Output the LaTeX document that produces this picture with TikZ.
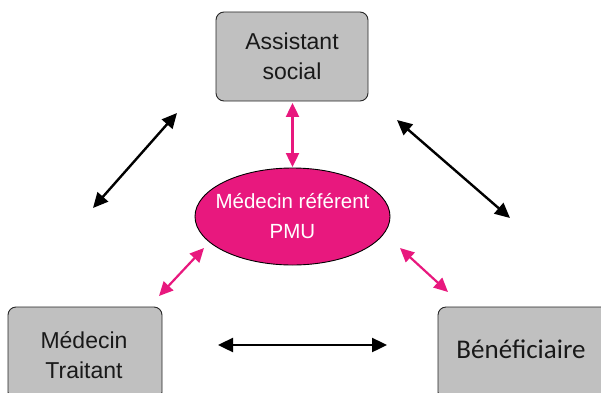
\documentclass[tikz,border=0pt]{standalone}
\usepackage{fontspec}
\setmainfont{Liberation Sans}
\newfontfamily\calibri{Carlito}
\usetikzlibrary{arrows.meta,shapes.geometric}
\definecolor{pmupink}{RGB}{232,24,126}
\definecolor{boxgray}{RGB}{192,192,192}
\begin{document}
\begin{tikzpicture}[x=1pt,y=1pt,
  greybox/.style={draw=black!85,line width=0.9pt,fill=boxgray,rounded corners=8pt,
    minimum width=#1,inner sep=0pt},
  boxtext/.style={align=center,font=\fontsize{23}{30}\selectfont,text=black!90},
  blackarrow/.style={line width=2.4pt,black,{Triangle[length=15pt,width=14pt]}-{Triangle[length=15pt,width=14pt]}},
  pinkarrow/.style={line width=2.2pt,pmupink,{Triangle[length=14pt,width=13pt]}-{Triangle[length=14pt,width=13pt]}}
]
\useasboundingbox (0,0) rectangle (601,392);
\clip (0,0) rectangle (601,392);
% boxes
\node[greybox=152pt,minimum height=89pt,boxtext] (as) at (292,335.5) {Assistant\\social};
\node[greybox=154pt,minimum height=93pt] (mtbox) at (85,38.5) {};
\node[boxtext] (mt) at (84,37) {Médecin\\Traitant};
\node[greybox=182pt,minimum height=93pt] (benbox) at (529,38.5) {};
\node[font=\calibri\fontsize{27}{32}\selectfont,text=black!90] (ben) at (521,43) {Bénéficiaire};
% ellipse
\node[ellipse,draw=black,line width=0.9pt,fill=pmupink,minimum width=195pt,minimum height=97pt,
  inner sep=0pt] (pmu) at (292.5,175.5) {};
\node[align=center,text=white,font=\fontsize{20.5}{30}\selectfont] (pmutext) at (pmu.center) {Médecin référent\\PMU};
% free ends
\coordinate (ul1) at (177,279);
\coordinate (ul2) at (93,184);
\coordinate (ur1) at (397,272);
\coordinate (ur2) at (510,174);
\coordinate (ll1) at (204,144);
\coordinate (ll2) at (159,96);
\coordinate (lr1) at (400,144);
\coordinate (lr2) at (448,100);
\coordinate (h1) at (218,47);
\coordinate (h2) at (387,47);
% arrows
\draw[pinkarrow,shorten <=1.5pt,shorten >=0.5pt] (as.south -| pmu.north) -- (pmu.north);
\draw[blackarrow] (ul1) -- (ul2);
\draw[blackarrow] (ur1) -- (ur2);
\draw[pinkarrow] (ll1) -- (ll2);
\draw[pinkarrow] (lr1) -- (lr2);
\draw[blackarrow] (h1) -- (h2);
\end{tikzpicture}
\end{document}
